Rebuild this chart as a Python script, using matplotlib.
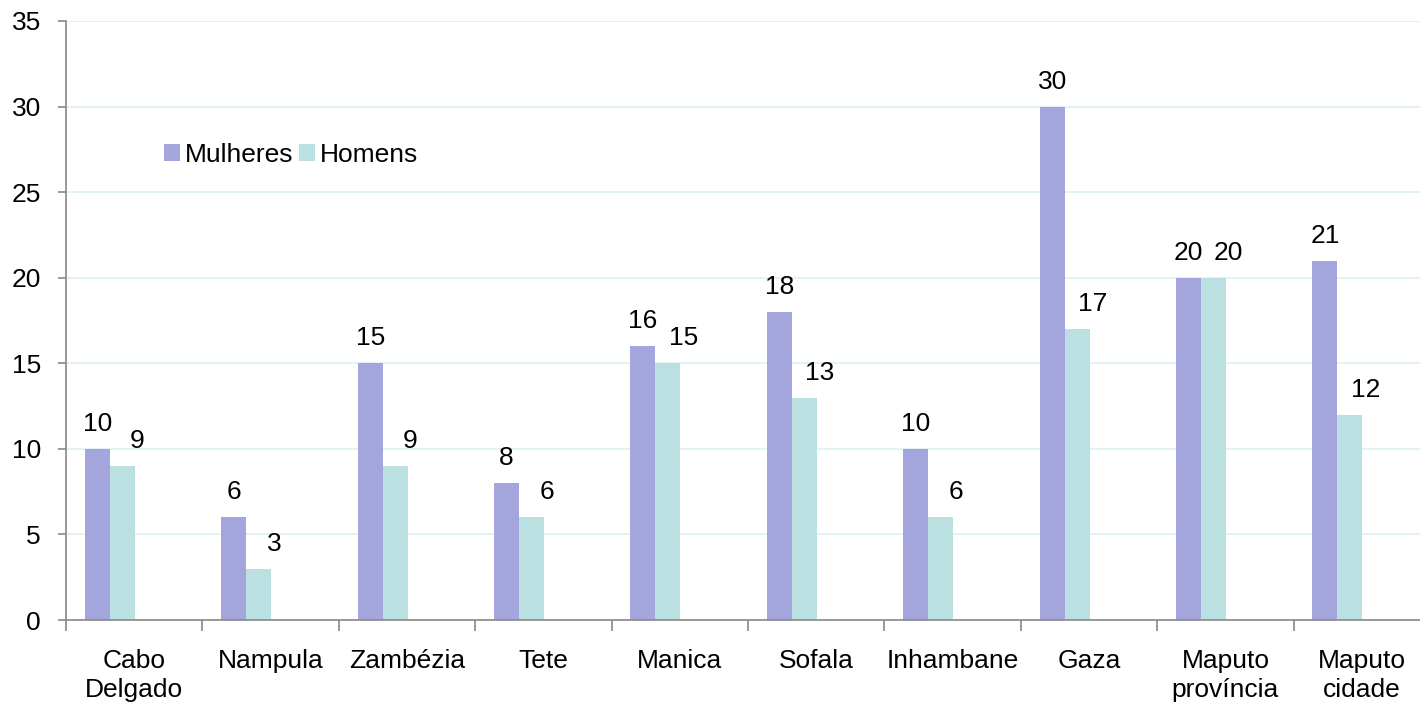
import matplotlib
matplotlib.use("Agg")
import matplotlib.pyplot as plt
import numpy as np

categories = ["Cabo\nDelgado", "Nampula", "Zambézia", "Tete", "Manica", "Sofala",
              "Inhambane", "Gaza", "Maputo\nprovíncia", "Maputo\ncidade"]
mulheres = [10, 6, 15, 8, 16, 18, 10, 30, 20, 21]
homens = [9, 3, 9, 6, 15, 13, 6, 17, 20, 12]
yticks = [0, 5, 10, 15, 20, 25, 30, 35]

plt.rcParams['font.family'] = ['Liberation Sans', 'DejaVu Sans']
FS = 19
W, H = 1420, 705
fig = plt.figure(figsize=(W/100, H/100), dpi=100)
left, right, top, bottom = 66, 1430, 21, 620
ax = fig.add_axes([left/W, 1-bottom/H, (right-left)/W, (bottom-top)/H])

x = np.arange(len(categories))
w = 0.183
c_m = "#A5A5DE"
c_h = "#BAE0E2"
ax.bar(x - 0.27, mulheres, w, color=c_m, label="Mulheres", zorder=2)
ax.bar(x - 0.087, homens, w, color=c_h, label="Homens", zorder=2)

for xi, v in zip(x, mulheres):
    ax.annotate(str(v), (xi - 0.27, v), xytext=(0, 18), textcoords="offset points",
                ha="center", va="center", fontsize=FS)
for xi, v in zip(x, homens):
    ax.annotate(str(v), (xi - 0.087, v), xytext=(11, 18), textcoords="offset points",
                ha="center", va="center", fontsize=FS)

ax.set_xlim(-0.5, len(categories) - 0.5)
ax.set_ylim(0, 35)
ax.set_yticks(yticks)
ax.set_yticklabels([str(t) for t in yticks], fontsize=FS)
ax.yaxis.grid(True, color="#DDF1F2", linewidth=1.2, zorder=0)
ax.set_axisbelow(True)

ax.set_xticks(np.arange(len(categories) + 1) - 0.5)
ax.set_xticklabels([])
ax.set_xticks(x, minor=True)
ax.set_xticklabels(categories, minor=True, fontsize=FS, linespacing=1.28)
ax.tick_params(axis="x", which="minor", length=0, pad=21)
ax.tick_params(axis="x", which="major", length=8, color="#888888", width=1.2)
ax.tick_params(axis="y", length=6, color="#888888", width=1.2, pad=12)

for s in ["top", "right"]:
    ax.spines[s].set_visible(False)
for s in ["left", "bottom"]:
    ax.spines[s].set_color("#888888")
    ax.spines[s].set_linewidth(1.2)

ax.legend(loc="upper left", bbox_to_anchor=((164-left)/(right-left), (bottom-143)/(bottom-top)),
          ncol=2, frameon=False, fontsize=FS, handlelength=0.6, handleheight=0.6,
          handletextpad=0.2, columnspacing=0.2, borderaxespad=0, borderpad=0)

fig.savefig("out.png", dpi=100)
